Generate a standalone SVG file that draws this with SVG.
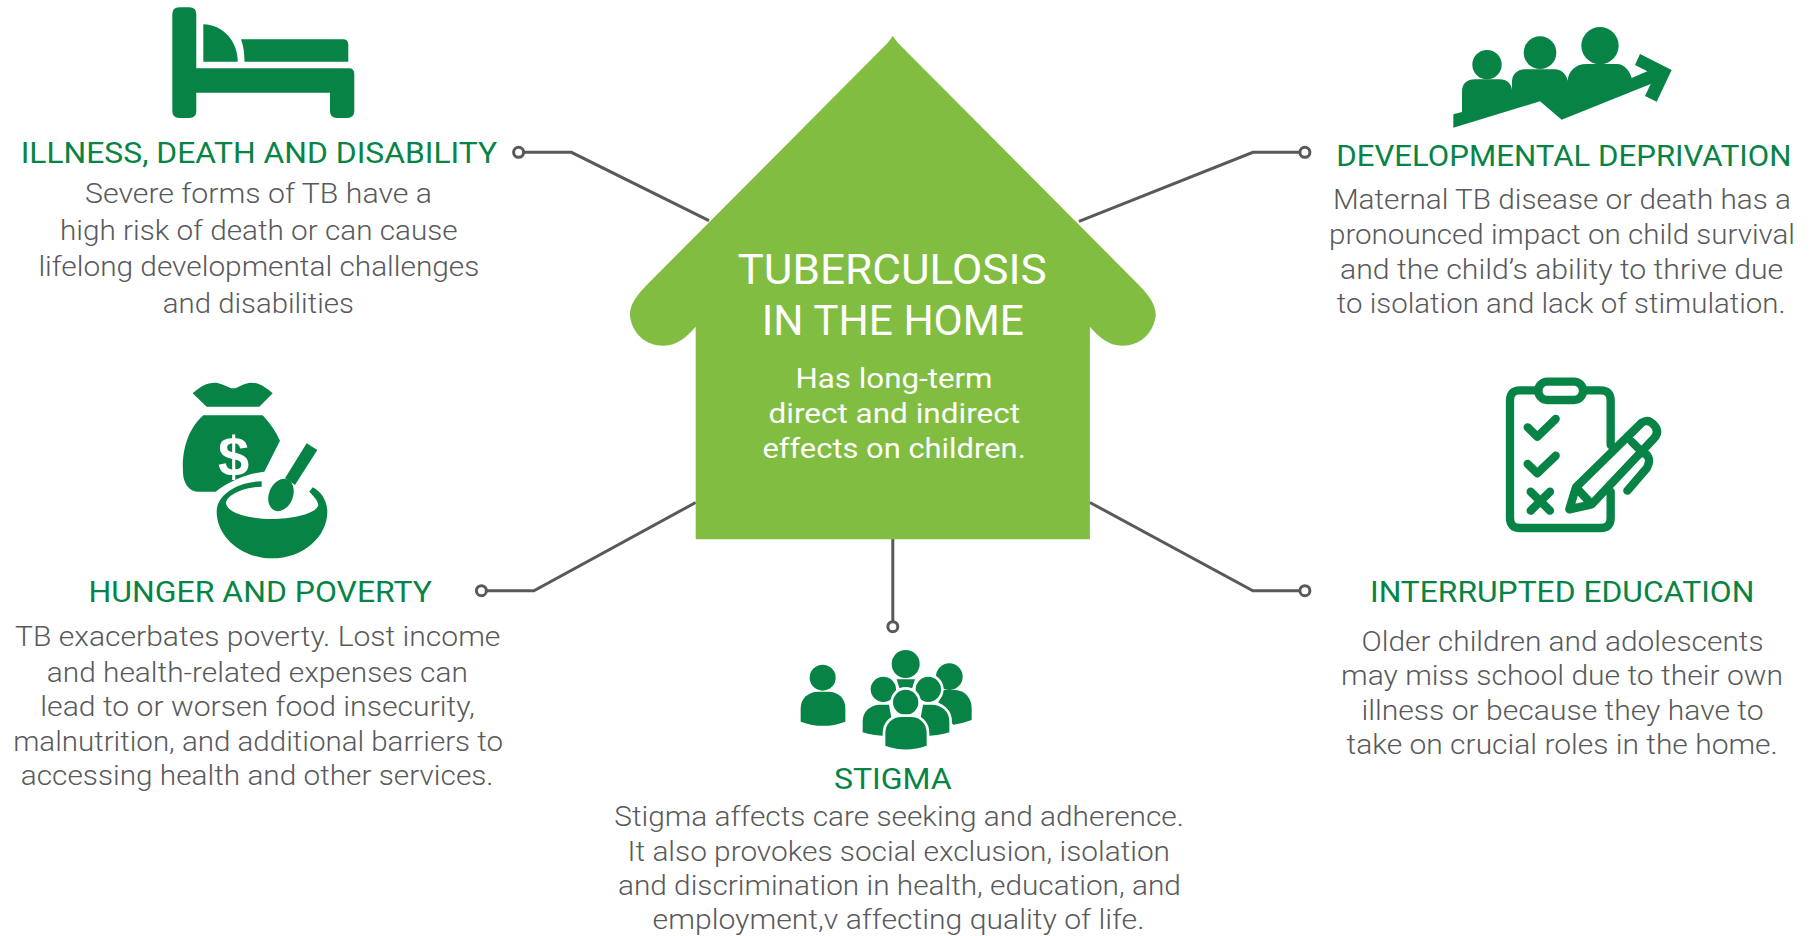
<svg xmlns="http://www.w3.org/2000/svg" width="1814" height="936" viewBox="0 0 1814 936">
<style>
text{font-family:Roboto,"Liberation Sans",sans-serif}
.h{font-size:30px;font-weight:400;fill:#078445}
.b{font-size:27px;font-weight:300;fill:#58595b}
.t{font-size:42px;font-weight:400;fill:#fff}
.s{font-size:28px;font-weight:400;fill:#fff}
.i{fill:#078445}
.p{fill:#078445;stroke:#fff;stroke-width:8}
.o{fill:none;stroke:#078445;stroke-width:25;stroke-linecap:round;stroke-linejoin:round}
.c{fill:none;stroke:#58595b;stroke-width:3}
.d{fill:#fff;stroke:#58595b;stroke-width:3}
</style>
<rect width="1814" height="936" fill="#fff"/>
<g id="connectors">
<path class="c" d="M709 220.700L571.400 152.300L518.600 152.300"/><circle class="d" cx="518.600" cy="152.300" r="5"/>
<path class="c" d="M695.700 502.500L533.900 590.700L481.400 590.700"/><circle class="d" cx="481.400" cy="590.700" r="5"/>
<path class="c" d="M1079 221.400L1252.900 152.300L1304.900 152.300"/><circle class="d" cx="1304.900" cy="152.300" r="5"/>
<path class="c" d="M1089.900 502.500L1252.900 590.700L1304.900 590.700"/><circle class="d" cx="1304.900" cy="590.700" r="5"/>
<path class="c" d="M892.800 539L892.800 626.700"/><circle class="d" cx="892.800" cy="626.700" r="5"/>
</g>
<g id="house">
<path fill="#80bd41" d="M892.800 35.700C894 38 896 40 898 43L1139.600 285.700C1150 297 1155.700 304 1155.700 316C1153 334 1140 345.700 1122.400 345.700C1108 345.700 1099 337 1089.900 326.800L1089.900 539.300L695.700 539.300L695.700 326.800C686.600 337 677.600 345.700 663.200 345.700C645.600 345.700 632.600 334 629.900 316C629.900 304 635.600 297 646 285.700L887.600 43C889.600 40 891.600 38 892.800 35.700Z"/>
<text class="t" x="737.500" y="283.900" textLength="309.300" lengthAdjust="spacingAndGlyphs">TUBERCULOSIS</text>
<text class="t" x="761.800" y="334.600" textLength="262.100" lengthAdjust="spacingAndGlyphs">IN THE HOME</text>
<text class="s" x="795.500" y="387.500" textLength="197" lengthAdjust="spacingAndGlyphs">Has long-term</text>
<text class="s" x="768.500" y="422.500" textLength="251.500" lengthAdjust="spacingAndGlyphs">direct and indirect</text>
<text class="s" x="762.400" y="457.900" textLength="263.400" lengthAdjust="spacingAndGlyphs">effects on children.</text>
</g>
<g id="illness">
<g class="i">
<path d="M172.300 14.300Q172.300 7.300 179.300 7.300L189.300 7.300Q196.300 7.300 196.300 14.300L196.300 68.300L349 68.300Q354.300 68.300 354.300 74L354.300 111Q354.300 118 347 118L337 118Q330 118 330 111L330 92.700L196.300 92.700L196.300 111Q196.300 118 189.300 118L179.300 118Q172.300 118 172.300 111Z"/>
<path d="M203.300 24.300C224 25 237.700 42 237.700 61.700L203.300 61.700Z"/>
<path d="M241 39.300L343 39.300Q348.300 39.300 348.300 45L348.300 61.700L244.500 61.700C244.500 54 243.500 46 241 39.300Z"/>
</g>
<text class="h" x="20.700" y="162.700" textLength="476.400" lengthAdjust="spacingAndGlyphs">ILLNESS, DEATH AND DISABILITY</text>
<text class="b" x="85" y="203.300" textLength="347" lengthAdjust="spacingAndGlyphs">Severe forms of TB have a</text>
<text class="b" x="60" y="240" textLength="397.600" lengthAdjust="spacingAndGlyphs">high risk of death or can cause</text>
<text class="b" x="38.400" y="276" textLength="441" lengthAdjust="spacingAndGlyphs">lifelong developmental challenges</text>
<text class="b" x="162.800" y="313.300" textLength="191" lengthAdjust="spacingAndGlyphs">and disabilities</text>
</g>
<g id="hunger">
<g class="i" transform="translate(170 370) scale(.33333)">
<path d="M68 70C90 50 110 38 135 38C155 38 175 55 190 55C205 55 220 38 245 38C270 38 290 55 308 70L268 110L110 110Z"/>
<path d="M100 136L278 136C300 160 318 185 330 212L283 305C240 310 190 325 137 365L85 365C60 365 45 345 40 320C35 270 40 190 100 136Z"/>
<path d="M275 334L275 350C220 352 170 375 168 400C172 430 240 447 305 447C370 447 440 430 445 405C443 390 430 378 418 365L428 352C455 365 472 395 472 425C472 500 400 565 305 565C215 565 140 500 140 425C140 375 200 335 275 334Z"/>
<path d="M410 220L442 240L375 345L345 325Z"/>
<ellipse cx="333" cy="375" rx="36" ry="50" transform="rotate(22 333 375)"/>
</g>
<text x="233.500" y="476" text-anchor="middle" fill="#fff" style="font-family:'Liberation Sans',sans-serif;font-size:56px;font-weight:700">$</text>
<text class="h" x="88.500" y="601.700" textLength="343.500" lengthAdjust="spacingAndGlyphs">HUNGER AND POVERTY</text>
<text class="b" x="15" y="646" textLength="485.400" lengthAdjust="spacingAndGlyphs">TB exacerbates poverty. Lost income</text>
<text class="b" x="46.800" y="681.700" textLength="421.100" lengthAdjust="spacingAndGlyphs">and health-related expenses can</text>
<text class="b" x="40.300" y="716" textLength="434.500" lengthAdjust="spacingAndGlyphs">lead to or worsen food insecurity,</text>
<text class="b" x="13.200" y="750.700" textLength="489.800" lengthAdjust="spacingAndGlyphs">malnutrition, and additional barriers to</text>
<text class="b" x="20.800" y="785" textLength="472.700" lengthAdjust="spacingAndGlyphs">accessing health and other services.</text>
</g>
<g id="deprivation">
<g class="i" transform="translate(1440 10) scale(.33333)">
<circle cx="141" cy="164" r="44"/><circle cx="300" cy="128" r="49"/><circle cx="480" cy="107" r="56"/>
<path d="M40 313L66 306L66 245C66 222 80 208 105 208L180 208C200 208 215 222 216 240L216 215C216 195 230 178 255 178L345 178C365 178 380 195 383 212C385 185 405 162 440 162L530 162C555 162 570 185 575 204L622 184L585 165L600 132L695 180L650 275L615 258L632 222L365 329L300 274L40 353Z"/>
</g>
<text class="h" x="1336.300" y="165.700" textLength="455.200" lengthAdjust="spacingAndGlyphs">DEVELOPMENTAL DEPRIVATION</text>
<text class="b" x="1332.900" y="209.300" textLength="458.100" lengthAdjust="spacingAndGlyphs">Maternal TB disease or death has a</text>
<text class="b" x="1329" y="244.300" textLength="466" lengthAdjust="spacingAndGlyphs">pronounced impact on child survival</text>
<text class="b" x="1340" y="279.300" textLength="443.200" lengthAdjust="spacingAndGlyphs">and the child’s ability to thrive due</text>
<text class="b" x="1336.800" y="313.300" textLength="448.800" lengthAdjust="spacingAndGlyphs">to isolation and lack of stimulation.</text>
</g>
<g id="education">
<g transform="translate(1490 370) scale(.33333)">
<path class="o" d="M145 61L90 61Q60 61 60 91L60 444Q60 474 90 474L332 474Q362 474 362 444L362 365M362 225L362 91Q362 61 332 61L280 61"/>
<rect class="o" x="145" y="35" width="134" height="55" rx="27"/>
<path class="o" d="M113 172L142 200L197 147M113 282L142 310L197 257M122 365L180 422M180 365L122 422"/>
<path class="o" d="M238 418L258 352L455 158Q475 145 492 165Q510 185 492 205L305 403ZM258 352L305 403M425 215L460 250M455 245Q490 260 470 295L412 362"/>
</g>
<text class="h" x="1370" y="602.300" textLength="384.400" lengthAdjust="spacingAndGlyphs">INTERRUPTED EDUCATION</text>
<text class="b" x="1361.500" y="650.700" textLength="402.100" lengthAdjust="spacingAndGlyphs">Older children and adolescents</text>
<text class="b" x="1341" y="685" textLength="442" lengthAdjust="spacingAndGlyphs">may miss school due to their own</text>
<text class="b" x="1361.500" y="720" textLength="402.100" lengthAdjust="spacingAndGlyphs">illness or because they have to</text>
<text class="b" x="1346.600" y="754.300" textLength="431.100" lengthAdjust="spacingAndGlyphs">take on crucial roles in the home.</text>
</g>
<g id="stigma">
<g class="i" transform="translate(790 640) scale(.33333)">
<circle cx="98" cy="113" r="39"/>
<path d="M32 245L32 205C32 175 55 155 85 155L115 155C145 155 166 175 166 205L166 245Q100 270 32 245Z"/>
<circle cx="478" cy="110" r="40"/>
<path d="M460 150L495 150C525 150 545 175 545 205L545 240Q520 250 490 254L440 200Z"/>
<circle cx="347" cy="72" r="42"/>
<path d="M320 118L375 118L365 150L330 150Z"/>
<circle class="p" cx="280" cy="148" r="42"/>
<circle class="p" cx="415" cy="148" r="42"/>
<path class="p" d="M214 280L214 245C214 212 240 190 270 190L300 190L320 295L300 292Q250 292 214 280Z"/>
<path class="p" d="M482 280L482 245C482 212 456 190 426 190L396 190L376 295L396 292Q446 292 482 280Z"/>
<circle class="p" cx="347" cy="187" r="42"/>
<path class="p" d="M282 320L282 280C282 248 305 227 335 227L362 227C392 227 414 248 414 280L414 320Q347 345 282 320Z"/>
</g>
<text class="h" x="833.900" y="789" textLength="117.800" lengthAdjust="spacingAndGlyphs">STIGMA</text>
<text class="b" x="614.300" y="825.700" textLength="569.600" lengthAdjust="spacingAndGlyphs">Stigma affects care seeking and adherence.</text>
<text class="b" x="627.600" y="860.700" textLength="542.400" lengthAdjust="spacingAndGlyphs">It also provokes social exclusion, isolation</text>
<text class="b" x="618" y="895" textLength="562.800" lengthAdjust="spacingAndGlyphs">and discrimination in health, education, and</text>
<text class="b" x="652.600" y="929.300" textLength="491.800" lengthAdjust="spacingAndGlyphs">employment,v affecting quality of life.</text>
</g>
</svg>
